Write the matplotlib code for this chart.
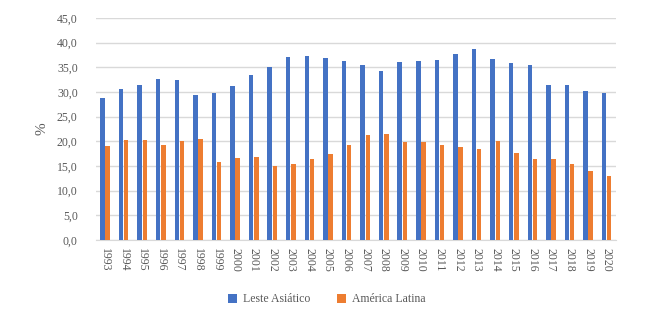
import numpy as np
import matplotlib
matplotlib.use("Agg")
import matplotlib.pyplot as plt

plt.rcParams['font.family'] = ['Liberation Serif', 'DejaVu Serif']

anos = [str(a) for a in range(1993, 2021)]
leste_asiatico = [28.8, 30.5, 31.5, 32.6, 32.5, 29.3, 29.7, 31.3, 33.5, 35.0,
                  37.0, 37.3, 36.8, 36.3, 35.4, 34.3, 36.1, 36.3, 36.5, 37.6,
                  38.7, 36.6, 35.8, 35.5, 31.5, 31.4, 30.1, 29.7]
america_latina = [19.0, 20.2, 20.3, 19.3, 20.1, 20.4, 15.7, 16.6, 16.9, 15.0,
                  15.3, 16.4, 17.5, 19.2, 21.3, 21.5, 19.9, 19.9, 19.3, 18.8,
                  18.4, 20.0, 17.6, 16.4, 16.3, 15.4, 14.0, 13.0]
yticks = np.arange(0, 50, 5)

azul = '#4472C4'
laranja = '#ED7D31'
cinza = '#595959'

fig = plt.figure(figsize=(6.47, 3.16), dpi=100)
ax = fig.add_axes([0.148, 0.241, 0.804, 0.702])

x = np.arange(len(anos))
w = 0.24
ax.bar(x - w / 2 - 0.02, leste_asiatico, w, color=azul, label='Leste Asiático', zorder=3)
ax.bar(x + w / 2 + 0.02, america_latina, w, color=laranja, label='América Latina', zorder=3)

ax.set_xlim(-0.5, len(anos) - 0.5)
ax.set_ylim(0, 45)
ax.set_yticks(yticks)
ax.set_yticklabels([f'{v:.1f}'.replace('.', ',') for v in yticks], color=cinza, fontsize=8.5)
ax.set_xticks(x)
ax.set_xticklabels(anos, rotation=-90, color=cinza, fontsize=8.5)
ax.tick_params(length=0, pad=6)
ax.tick_params(axis='y', pad=13)
ax.grid(axis='y', color='#d9d9d9', lw=1, zorder=0)
for s in ['top', 'right', 'left']:
    ax.spines[s].set_visible(False)
ax.spines['bottom'].set_color('#d9d9d9')
ax.set_ylabel('%', color=cinza, fontsize=11, labelpad=6)

fig.legend(loc='lower center', bbox_to_anchor=(0.505, 0.0), ncol=2, frameon=False,
           fontsize=8.5, handlelength=0.8, handleheight=0.8, columnspacing=2.2,
           handletextpad=0.5, labelcolor=cinza)

fig.savefig('out.png', dpi=100)
